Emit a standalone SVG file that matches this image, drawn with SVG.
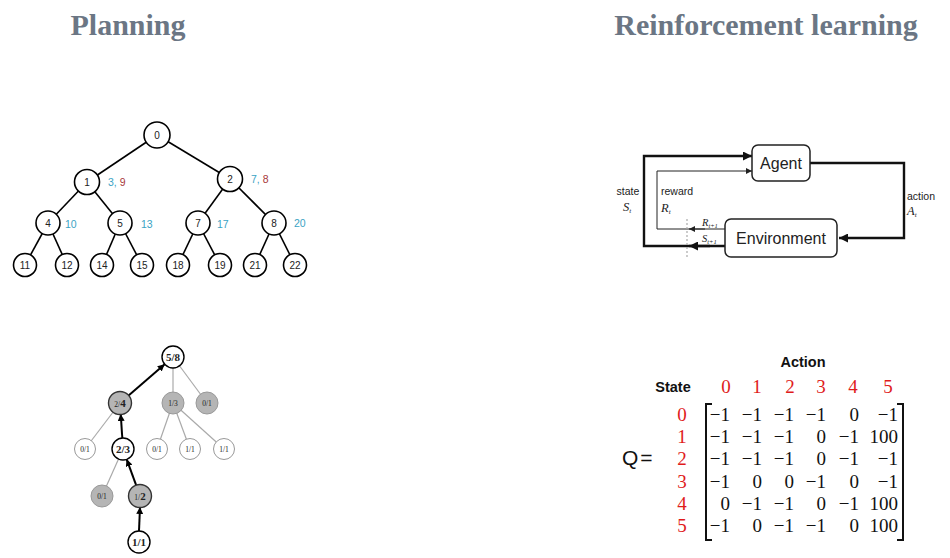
<svg xmlns="http://www.w3.org/2000/svg" width="950" height="558" viewBox="0 0 950 558">
<defs>
<style>
.title{font-family:"Liberation Serif",serif;font-weight:bold;font-size:30px;fill:#6b7684}
.tn circle{fill:#fff;stroke:#000;stroke-width:1.6}
.tn text{font-family:"Liberation Sans",Arial,sans-serif;font-size:10px;fill:#222;text-anchor:middle}
.tl{font-family:"Liberation Sans",Arial,sans-serif;font-size:10.5px}
.cy{fill:#3aa3c4}
.rd{fill:#a8383a}
.tedge line{stroke:#000;stroke-width:1.6}
.mn text{font-family:"Liberation Serif",serif;text-anchor:middle;fill:#222}
.sm{font-size:7.5px}
.bd{font-size:11px;font-weight:bold}
.gline{stroke:#aaa;stroke-width:1.2}
.barr{stroke:#000;stroke-width:2;fill:none}
.rl{font-family:"Liberation Sans",Arial,sans-serif;font-size:10.5px;fill:#222}
.ital{font-family:"Liberation Serif",serif;font-style:italic;fill:#222}
.box{fill:#fff;stroke:#222;stroke-width:1.5}
.bx text{font-family:"Liberation Sans",Arial,sans-serif;font-size:16px;fill:#222;text-anchor:middle}
.thick{stroke:#111;stroke-width:2.4;fill:none}
.thin{stroke:#222;stroke-width:1;fill:none}
.hd{font-family:"Liberation Sans",Arial,sans-serif;font-weight:bold;font-size:14.5px;fill:#111}
.red{font-family:"Liberation Serif",serif;font-size:19px;fill:#e01b1b;text-anchor:middle}
.mat text{font-family:"Liberation Serif",serif;font-size:19px;fill:#111;text-anchor:end}
</style>
<marker id="ah" viewBox="0 0 10 10" refX="10" refY="5" markerWidth="7" markerHeight="7" markerUnits="userSpaceOnUse" orient="auto"><path d="M0,0 L10,5 L0,10 z" fill="#000"/></marker>
<marker id="ahL" viewBox="0 0 10 10" refX="10" refY="5" markerWidth="11" markerHeight="9" markerUnits="userSpaceOnUse" orient="auto"><path d="M0,0 L10,5 L0,10 z" fill="#111"/></marker>
<marker id="ahS" viewBox="0 0 10 10" refX="10" refY="5" markerWidth="8" markerHeight="6" markerUnits="userSpaceOnUse" orient="auto"><path d="M0,0 L10,5 L0,10 z" fill="#222"/></marker>
</defs>
<rect width="950" height="558" fill="#fff"/>

<text class="title" x="128" y="35" text-anchor="middle">Planning</text>
<text class="title" x="766" y="35" text-anchor="middle">Reinforcement learning</text>

<!-- Planning tree 1 -->
<g id="tree-edges" class="tedge">
<line x1="157" y1="135" x2="87" y2="182"/>
<line x1="157" y1="135" x2="230" y2="179"/>
<line x1="87" y1="182" x2="48" y2="223"/>
<line x1="87" y1="182" x2="120" y2="223"/>
<line x1="230" y1="179" x2="198" y2="223"/>
<line x1="230" y1="179" x2="274" y2="223"/>
<line x1="48" y1="223" x2="25" y2="265"/>
<line x1="48" y1="223" x2="67" y2="265"/>
<line x1="120" y1="223" x2="102" y2="265"/>
<line x1="120" y1="223" x2="142" y2="265"/>
<line x1="198" y1="223" x2="178" y2="265"/>
<line x1="198" y1="223" x2="220" y2="265"/>
<line x1="274" y1="223" x2="255" y2="265"/>
<line x1="274" y1="223" x2="295" y2="265"/>
</g>
<g id="t0" class="tn"><circle cx="157" cy="135" r="13"/><text x="157" y="139">0</text></g>
<g id="t1" class="tn"><circle cx="87" cy="182" r="12.5"/><text x="87" y="186">1</text></g>
<g id="t2" class="tn"><circle cx="230" cy="179" r="12.5"/><text x="230" y="183">2</text></g>
<g id="t4" class="tn"><circle cx="48" cy="223" r="12"/><text x="48" y="227">4</text></g>
<g id="t5" class="tn"><circle cx="120" cy="223" r="12"/><text x="120" y="227">5</text></g>
<g id="t7" class="tn"><circle cx="198" cy="223" r="12"/><text x="198" y="227">7</text></g>
<g id="t8" class="tn"><circle cx="274" cy="223" r="12"/><text x="274" y="227">8</text></g>
<g id="t11" class="tn"><circle cx="25" cy="265" r="11.5"/><text x="25" y="269">11</text></g>
<g id="t12" class="tn"><circle cx="67" cy="265" r="11.5"/><text x="67" y="269">12</text></g>
<g id="t14" class="tn"><circle cx="102" cy="265" r="11.5"/><text x="102" y="269">14</text></g>
<g id="t15" class="tn"><circle cx="142" cy="265" r="11.5"/><text x="142" y="269">15</text></g>
<g id="t18" class="tn"><circle cx="178" cy="265" r="11.5"/><text x="178" y="269">18</text></g>
<g id="t19" class="tn"><circle cx="220" cy="265" r="11.5"/><text x="220" y="269">19</text></g>
<g id="t21" class="tn"><circle cx="255" cy="265" r="11.5"/><text x="255" y="269">21</text></g>
<g id="t22" class="tn"><circle cx="295" cy="265" r="11.5"/><text x="295" y="269">22</text></g>
<g id="tree-labels" class="tl">
<text x="108" y="186"><tspan class="cy">3, </tspan><tspan class="rd">9</tspan></text>
<text x="251" y="183"><tspan class="cy">7, </tspan><tspan class="rd">8</tspan></text>
<text class="cy" x="65" y="228">10</text>
<text class="cy" x="141" y="228">13</text>
<text class="cy" x="217" y="228">17</text>
<text class="cy" x="294" y="227">20</text>
</g>

<!-- MCTS tree -->
<g id="mcts-edges">
<line class="gline" x1="173" y1="357" x2="173" y2="403"/>
<line class="gline" x1="173" y1="357" x2="207" y2="403"/>
<line class="gline" x1="120" y1="403" x2="85" y2="449"/>
<line class="gline" x1="173" y1="403" x2="157" y2="449"/>
<line class="gline" x1="173" y1="403" x2="190" y2="449"/>
<line class="gline" x1="173" y1="403" x2="224" y2="449"/>
<line class="gline" x1="123" y1="449" x2="102" y2="496"/>
<line class="barr" x1="128.3" y1="395.8" x2="164.7" y2="364.2" marker-end="url(#ah)"/>
<line class="barr" x1="122.3" y1="438" x2="120.7" y2="414" marker-end="url(#ah)"/>
<line class="barr" x1="136.3" y1="485.7" x2="126.7" y2="459.3" marker-end="url(#ah)"/>
<line class="barr" x1="139" y1="531" x2="140" y2="507" marker-end="url(#ah)"/>
</g>
<g class="mn">
<g id="m58"><circle cx="173" cy="357" r="11" fill="#fff" stroke="#000" stroke-width="1.4"/><text class="bd" x="173" y="361">5/8</text></g>
<g id="m24"><circle cx="120" cy="403" r="11.5" fill="#b5b5b5" stroke="#333" stroke-width="1.4"/><text x="120" y="407"><tspan class="sm">2/</tspan><tspan class="bd">4</tspan></text></g>
<g id="m13"><circle cx="173" cy="403" r="11" fill="#b5b5b5" stroke="#999" stroke-width="1"/><text class="sm" x="173" y="406">1/3</text></g>
<g id="m01a"><circle cx="207" cy="403" r="11" fill="#b5b5b5" stroke="#999" stroke-width="1"/><text class="sm" x="207" y="406">0/1</text></g>
<g id="m01b"><circle cx="85" cy="449" r="10.5" fill="#fff" stroke="#999" stroke-width="1"/><text class="sm" x="85" y="452">0/1</text></g>
<g id="m23"><circle cx="123" cy="449" r="11" fill="#fff" stroke="#000" stroke-width="1.4"/><text class="bd" x="123" y="453">2/3</text></g>
<g id="m01c"><circle cx="157" cy="449" r="10.5" fill="#fff" stroke="#999" stroke-width="1"/><text class="sm" x="157" y="452">0/1</text></g>
<g id="m11a"><circle cx="190" cy="449" r="10.5" fill="#fff" stroke="#999" stroke-width="1"/><text class="sm" x="190" y="452">1/1</text></g>
<g id="m11b"><circle cx="224" cy="449" r="10.5" fill="#fff" stroke="#999" stroke-width="1"/><text class="sm" x="224" y="452">1/1</text></g>
<g id="m01d"><circle cx="102" cy="496" r="11" fill="#b5b5b5" stroke="#999" stroke-width="1"/><text class="sm" x="102" y="499">0/1</text></g>
<g id="m12"><circle cx="140" cy="496" r="11.5" fill="#b5b5b5" stroke="#333" stroke-width="1.4"/><text x="140" y="500"><tspan class="sm">1/</tspan><tspan class="bd">2</tspan></text></g>
<g id="m11c"><circle cx="139" cy="542" r="11" fill="#fff" stroke="#000" stroke-width="1.4"/><text class="bd" x="139" y="546">1/1</text></g>
</g>

<!-- RL loop -->
<g id="rl-connectors">
<path class="thick" d="M725,246 H644 V156 H752" marker-end="url(#ahL)"/>
<path class="thin" d="M725,229 H657 V171 H752" marker-end="url(#ahS)"/>
<path class="thick" d="M810,163 H904 V238 H839" marker-end="url(#ahL)"/>
<line x1="710" y1="246" x2="689" y2="246" stroke="#111" stroke-width="2.4" marker-end="url(#ahL)"/>
<line x1="705" y1="229" x2="689" y2="229" stroke="#222" stroke-width="1" marker-end="url(#ahS)"/>
<line x1="687" y1="219" x2="687" y2="258" stroke="#aaa" stroke-width="1.2" stroke-dasharray="2,2"/>
</g>
<g id="agent" class="bx"><rect class="box" x="752" y="145" width="58" height="36" rx="6"/><text x="781" y="169">Agent</text></g>
<g id="environment" class="bx"><rect class="box" x="725" y="219" width="112" height="38" rx="6"/><text x="781" y="244">Environment</text></g>
<g id="rl-labels">
<text class="rl" x="628" y="195" text-anchor="middle">state</text>
<text class="ital" x="623" y="211" font-size="12.5">S<tspan font-size="7" dy="2">t</tspan></text>
<text class="rl" x="661" y="195">reward</text>
<text class="ital" x="661" y="212" font-size="12.5">R<tspan font-size="7" dy="2">t</tspan></text>
<text class="rl" x="907" y="200">action</text>
<text class="ital" x="907" y="215" font-size="12.5">A<tspan font-size="7" dy="2">t</tspan></text>
<text class="ital" x="702" y="226" font-size="10.5">R<tspan font-size="6.5" dy="1.5">t+1</tspan></text>
<text class="ital" x="702" y="242" font-size="10.5">S<tspan font-size="6.5" dy="1.5">t+1</tspan></text>
</g>

<!-- Q matrix -->
<g id="qmatrix">
<text class="hd" x="803" y="367" text-anchor="middle">Action</text>
<text class="hd" x="673" y="392" text-anchor="middle">State</text>
<text class="red" x="726" y="393">0</text>
<text class="red" x="757" y="393">1</text>
<text class="red" x="790" y="393">2</text>
<text class="red" x="821" y="393">3</text>
<text class="red" x="853" y="393">4</text>
<text class="red" x="888" y="393">5</text>
<text class="red" x="682" y="421">0</text>
<text class="red" x="682" y="443">1</text>
<text class="red" x="682" y="465">2</text>
<text class="red" x="682" y="488">3</text>
<text class="red" x="682" y="510">4</text>
<text class="red" x="682" y="532">5</text>
<text x="622" y="465" font-family="'Liberation Sans',Arial,sans-serif" font-size="21" fill="#111">Q<tspan dx="2">=</tspan></text>
<path d="M712,404 H706 V540 H712" fill="none" stroke="#111" stroke-width="2"/>
<path d="M897,404 H903 V540 H897" fill="none" stroke="#111" stroke-width="2"/>
<g class="mat">
<text y="421"><tspan x="730">−1</tspan><tspan x="762">−1</tspan><tspan x="794">−1</tspan><tspan x="826">−1</tspan><tspan x="859">0</tspan><tspan x="898">−1</tspan></text>
<text y="443"><tspan x="730">−1</tspan><tspan x="762">−1</tspan><tspan x="794">−1</tspan><tspan x="826">0</tspan><tspan x="859">−1</tspan><tspan x="898">100</tspan></text>
<text y="465"><tspan x="730">−1</tspan><tspan x="762">−1</tspan><tspan x="794">−1</tspan><tspan x="826">0</tspan><tspan x="859">−1</tspan><tspan x="898">−1</tspan></text>
<text y="488"><tspan x="730">−1</tspan><tspan x="762">0</tspan><tspan x="794">0</tspan><tspan x="826">−1</tspan><tspan x="859">0</tspan><tspan x="898">−1</tspan></text>
<text y="510"><tspan x="730">0</tspan><tspan x="762">−1</tspan><tspan x="794">−1</tspan><tspan x="826">0</tspan><tspan x="859">−1</tspan><tspan x="898">100</tspan></text>
<text y="532"><tspan x="730">−1</tspan><tspan x="762">0</tspan><tspan x="794">−1</tspan><tspan x="826">−1</tspan><tspan x="859">0</tspan><tspan x="898">100</tspan></text>
</g>
</g>
</svg>
